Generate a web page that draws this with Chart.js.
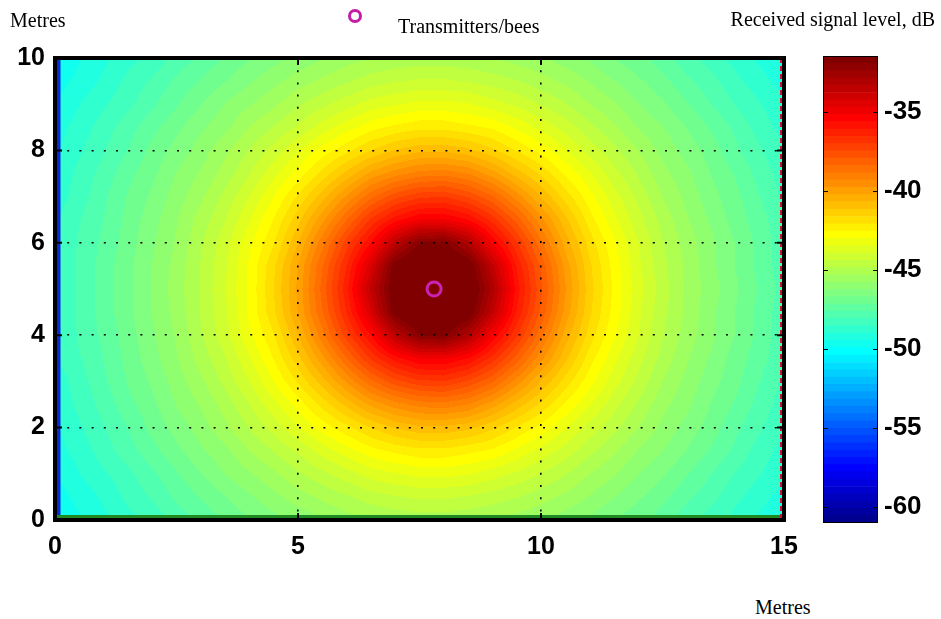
<!DOCTYPE html>
<html>
<head>
<meta charset="utf-8">
<title>Received signal level</title>
<script src="https://cdn.jsdelivr.net/npm/chart.js@4.4.1/dist/chart.umd.min.js"></script>
<style>
  html, body { margin: 0; padding: 0; background: #fff; }
  #page { position: relative; width: 941px; height: 619px; overflow: hidden; background: #fff; }
  .lbl { position: absolute; font-family: 'Liberation Serif', 'Times New Roman', serif; font-size: 20px; line-height: 20px; color: #000; white-space: nowrap; }
  #mainBox { position: absolute; left: 0; top: 0; width: 800px; height: 560px; }
  #barBox { position: absolute; left: 800px; top: 0; width: 141px; height: 560px; }
  .mark { position: absolute; left: 348px; top: 9px; width: 8px; height: 8px; border: 3px solid #c41ca6; border-radius: 50%; }
</style>
</head>
<body>
<div id="page">
  <div id="mainBox"><canvas id="main"></canvas></div>
  <div id="barBox"><canvas id="bar"></canvas></div>
  <div class="lbl" style="left:10px; top:10px;">Metres</div>
  <span class="mark"></span>
  <div class="lbl" style="left:398px; top:16px;">Transmitters/bees</div>
  <div class="lbl" style="right:6px; top:9px;">Received signal level, dB</div>
  <div class="lbl" style="left:755px; top:597px;">Metres</div>
</div>
<script>
// Grid nodes of the survey area (metres)
const xNodes = [0, 0.5, 1, 1.5, 2, 2.5, 3, 3.5, 4, 4.5, 5, 5.5, 6, 6.5, 7, 7.5, 8, 8.5, 9, 9.5, 10, 10.5, 11, 11.5, 12, 12.5, 13, 13.5, 14, 14.5, 15];
const yNodes = [0, 0.5, 1, 1.5, 2, 2.5, 3, 3.5, 4, 4.5, 5, 5.5, 6, 6.5, 7, 7.5, 8, 8.5, 9, 9.5, 10];

// Received signal level (dB) at each node, one row per yNodes entry (bottom to top)
const signalLevels = [
  [-49.9,-49.5,-49.1,-48.7,-48.4,-47.9,-47.5,-47.1,-46.7,-46.4,-46.1,-45.8,-45.5,-45.3,-45.2,-45.1,-45.1,-45.2,-45.3,-45.5,-45.7,-46.0,-46.3,-46.7,-47.0,-47.4,-47.9,-48.3,-48.7,-49.1,-49.5],
  [-49.7,-49.3,-48.9,-48.4,-48.0,-47.5,-47.1,-46.7,-46.3,-45.9,-45.5,-45.2,-44.9,-44.6,-44.4,-44.3,-44.3,-44.4,-44.6,-44.8,-45.1,-45.4,-45.8,-46.2,-46.6,-47.0,-47.5,-47.9,-48.4,-48.8,-49.2],
  [-49.5,-49.0,-48.6,-48.2,-47.7,-47.2,-46.7,-46.2,-45.8,-45.4,-44.9,-44.5,-44.1,-43.7,-43.5,-43.3,-43.3,-43.4,-43.7,-44.0,-44.4,-44.8,-45.3,-45.7,-46.2,-46.6,-47.1,-47.6,-48.1,-48.5,-48.9],
  [-49.2,-48.8,-48.3,-47.8,-47.3,-46.8,-46.3,-45.9,-45.3,-44.8,-44.3,-43.7,-43.2,-42.7,-42.4,-42.2,-42.2,-42.4,-42.6,-43.1,-43.6,-44.1,-44.7,-45.2,-45.8,-46.2,-46.7,-47.2,-47.7,-48.3,-48.7],
  [-49.1,-48.6,-48.1,-47.6,-47.0,-46.5,-46.0,-45.4,-44.8,-44.2,-43.5,-42.8,-42.2,-41.6,-41.1,-40.8,-40.8,-41.0,-41.5,-42.1,-42.7,-43.4,-44.1,-44.7,-45.3,-45.9,-46.4,-46.9,-47.5,-48.0,-48.5],
  [-48.9,-48.4,-47.9,-47.3,-46.8,-46.2,-45.7,-45.1,-44.4,-43.6,-42.8,-41.9,-41.0,-40.1,-39.5,-39.1,-39.0,-39.3,-40.0,-40.9,-41.7,-42.6,-43.4,-44.2,-44.9,-45.6,-46.1,-46.7,-47.2,-47.8,-48.3],
  [-48.8,-48.3,-47.7,-47.1,-46.6,-46.0,-45.4,-44.7,-43.9,-43.0,-42.0,-40.9,-39.7,-38.5,-37.6,-37.1,-37.0,-37.5,-38.3,-39.5,-40.7,-41.8,-42.8,-43.7,-44.5,-45.3,-45.9,-46.5,-47.0,-47.6,-48.2],
  [-48.6,-48.1,-47.6,-47.0,-46.4,-45.8,-45.1,-44.4,-43.5,-42.5,-41.3,-39.9,-38.4,-36.9,-35.8,-35.1,-35.1,-35.6,-36.7,-38.1,-39.6,-41.0,-42.3,-43.3,-44.2,-45.0,-45.7,-46.3,-46.9,-47.4,-48.0],
  [-48.6,-48.0,-47.5,-46.9,-46.3,-45.7,-44.9,-44.1,-43.1,-42.1,-40.7,-39.0,-37.2,-35.6,-33.5,-31.9,-31.7,-33.1,-35.2,-36.9,-38.7,-40.4,-41.8,-42.9,-43.9,-44.8,-45.5,-46.1,-46.7,-47.3,-47.9],
  [-48.5,-48.0,-47.4,-46.8,-46.2,-45.6,-44.8,-44.0,-42.9,-41.7,-40.2,-38.4,-36.5,-34.3,-31.5,-30.7,-30.6,-31.3,-33.6,-36.1,-38.0,-39.9,-41.5,-42.7,-43.8,-44.7,-45.4,-46.1,-46.7,-47.3,-47.9],
  [-48.5,-48.0,-47.4,-46.8,-46.2,-45.5,-44.8,-43.9,-42.9,-41.6,-40.1,-38.2,-36.2,-33.6,-31.2,-30.3,-30.2,-30.9,-33.0,-35.8,-37.8,-39.7,-41.4,-42.6,-43.7,-44.6,-45.4,-46.0,-46.6,-47.2,-47.8],
  [-48.5,-48.0,-47.4,-46.8,-46.2,-45.6,-44.8,-44.0,-42.9,-41.7,-40.2,-38.4,-36.5,-34.3,-31.5,-30.7,-30.6,-31.3,-33.6,-36.1,-38.0,-39.9,-41.5,-42.7,-43.8,-44.7,-45.4,-46.1,-46.7,-47.3,-47.9],
  [-48.6,-48.0,-47.5,-46.9,-46.3,-45.7,-44.9,-44.1,-43.1,-42.1,-40.7,-39.0,-37.2,-35.6,-33.5,-31.9,-31.7,-33.1,-35.2,-36.9,-38.7,-40.4,-41.8,-42.9,-43.9,-44.8,-45.5,-46.1,-46.7,-47.3,-47.9],
  [-48.6,-48.1,-47.6,-47.0,-46.4,-45.8,-45.1,-44.4,-43.5,-42.5,-41.3,-39.9,-38.4,-36.9,-35.8,-35.1,-35.1,-35.6,-36.7,-38.1,-39.6,-41.0,-42.3,-43.3,-44.2,-45.0,-45.7,-46.3,-46.9,-47.4,-48.0],
  [-48.8,-48.3,-47.7,-47.1,-46.6,-46.0,-45.4,-44.7,-43.9,-43.0,-42.0,-40.9,-39.7,-38.5,-37.6,-37.1,-37.0,-37.5,-38.3,-39.5,-40.7,-41.8,-42.8,-43.7,-44.5,-45.3,-45.9,-46.5,-47.0,-47.6,-48.2],
  [-48.9,-48.4,-47.9,-47.3,-46.8,-46.2,-45.7,-45.1,-44.4,-43.6,-42.8,-41.9,-41.0,-40.1,-39.5,-39.1,-39.0,-39.3,-40.0,-40.9,-41.7,-42.6,-43.4,-44.2,-44.9,-45.6,-46.1,-46.7,-47.2,-47.8,-48.3],
  [-49.1,-48.6,-48.1,-47.6,-47.0,-46.5,-46.0,-45.4,-44.8,-44.2,-43.5,-42.8,-42.2,-41.6,-41.1,-40.8,-40.8,-41.0,-41.5,-42.1,-42.7,-43.4,-44.1,-44.7,-45.3,-45.9,-46.4,-46.9,-47.5,-48.0,-48.5],
  [-49.2,-48.8,-48.3,-47.8,-47.3,-46.8,-46.3,-45.9,-45.3,-44.8,-44.3,-43.7,-43.2,-42.7,-42.4,-42.2,-42.2,-42.4,-42.6,-43.1,-43.6,-44.1,-44.7,-45.2,-45.8,-46.2,-46.7,-47.2,-47.7,-48.3,-48.7],
  [-49.5,-49.0,-48.6,-48.2,-47.7,-47.2,-46.7,-46.2,-45.8,-45.4,-44.9,-44.5,-44.1,-43.7,-43.5,-43.3,-43.3,-43.4,-43.7,-44.0,-44.4,-44.8,-45.3,-45.7,-46.2,-46.6,-47.1,-47.6,-48.1,-48.5,-48.9],
  [-49.7,-49.3,-48.9,-48.4,-48.0,-47.5,-47.1,-46.7,-46.3,-45.9,-45.5,-45.2,-44.9,-44.6,-44.4,-44.3,-44.3,-44.4,-44.6,-44.8,-45.1,-45.4,-45.8,-46.2,-46.6,-47.0,-47.5,-47.9,-48.4,-48.8,-49.2],
  [-49.9,-49.5,-49.1,-48.7,-48.4,-47.9,-47.5,-47.1,-46.7,-46.4,-46.1,-45.8,-45.5,-45.3,-45.2,-45.1,-45.1,-45.2,-45.3,-45.5,-45.7,-46.0,-46.3,-46.7,-47.0,-47.4,-47.9,-48.3,-48.7,-49.1,-49.5]
];

// Transmitter (bee) positions, metres
const transmitters = [{ x: 7.8, y: 5.0 }];

// Axis ticks and colour limits
const xTicks = [0, 5, 10, 15];
const yTicks = [0, 2, 4, 6, 8, 10];
const colorbarTicks = [-60, -55, -50, -45, -40, -35];
const colorLimits = [-61.0, -31.44];

// MATLAB-style jet colormap with 64 entries
function jetColormap(m) {
  const n = Math.ceil(m / 4);
  const u = [];
  for (let k = 1; k <= n; k++) u.push(k / n);
  for (let k = 1; k < n; k++) u.push(1);
  for (let k = n; k >= 1; k--) u.push(k / n);
  const g0 = Math.ceil(n / 2) - (m % 4 === 1 ? 1 : 0);
  const map = Array.from({ length: m }, () => [0, 0, 0]);
  for (let k = 0; k < u.length; k++) {
    const gi = g0 + k, ri = gi + n, bi = gi - n;
    if (gi >= 0 && gi < m) map[gi][1] = u[k];
    if (ri >= 0 && ri < m) map[ri][0] = u[k];
    if (bi >= 0 && bi < m) map[bi][2] = u[k];
  }
  return map.map(c => c.map(v => Math.round(v * 255)));
}
const JET = jetColormap(64);

function colorIndex(v) {
  const [cmin, cmax] = colorLimits;
  let i = Math.floor((v - cmin) / (cmax - cmin) * JET.length);
  return Math.max(0, Math.min(JET.length - 1, i));
}

function locate(nodes, v) {
  let i = 0;
  while (i < nodes.length - 2 && v > nodes[i + 1]) i++;
  let t = (v - nodes[i]) / (nodes[i + 1] - nodes[i]);
  return [i, Math.max(0, Math.min(1, t))];
}

// Interpolated shading between grid nodes
function levelAt(x, y) {
  const [i, tx] = locate(xNodes, x);
  const [j, ty] = locate(yNodes, y);
  const a = signalLevels[j][i], b = signalLevels[j][i + 1];
  const c = signalLevels[j + 1][i], d = signalLevels[j + 1][i + 1];
  return (a * (1 - tx) + b * tx) * (1 - ty) + (c * (1 - tx) + d * tx) * ty;
}

const heatmapPlugin = {
  id: 'heatmap',
  beforeDraw(chart) {
    const ctx = chart.ctx, ca = chart.chartArea;
    const xs = chart.scales.x, ys = chart.scales.y;
    const x0 = Math.floor(ca.left), y0 = Math.floor(ca.top);
    const w = Math.ceil(ca.right) - x0, h = Math.ceil(ca.bottom) - y0;
    const off = document.createElement('canvas');
    off.width = w; off.height = h;
    const octx = off.getContext('2d');
    const img = octx.createImageData(w, h);
    for (let py = 0; py < h; py++) {
      const yv = ys.getValueForPixel(y0 + py + 0.5);
      for (let px = 0; px < w; px++) {
        const xv = xs.getValueForPixel(x0 + px + 0.5);
        const c = JET[colorIndex(levelAt(xv, yv))];
        const o = (py * w + px) * 4;
        img.data[o] = c[0]; img.data[o + 1] = c[1]; img.data[o + 2] = c[2]; img.data[o + 3] = 255;
      }
    }
    octx.putImageData(img, 0, 0);
    ctx.save();
    ctx.drawImage(off, x0, y0);
    // thin coloured edge bands along the plot border
    ctx.fillStyle = '#0a28d8';
    ctx.fillRect(ca.left + 1, ca.top, 4.5, ca.height);
    ctx.fillStyle = '#1f8a22';
    ctx.fillRect(ca.left, ca.bottom - 5, ca.width, 4);
    ctx.strokeStyle = '#d0102c';
    ctx.lineWidth = 2;
    ctx.setLineDash([5, 3]);
    ctx.beginPath();
    ctx.moveTo(ca.right - 3, ca.top);
    ctx.lineTo(ca.right - 3, ca.bottom);
    ctx.stroke();
    ctx.restore();
  },
  afterDraw(chart) {
    const ctx = chart.ctx, ca = chart.chartArea;
    const xs = chart.scales.x, ys = chart.scales.y;
    ctx.save();
    ctx.strokeStyle = '#000';
    ctx.lineWidth = 2;
    ctx.beginPath();
    xTicks.forEach(v => {
      const p = xs.getPixelForValue(v);
      ctx.moveTo(p, ca.bottom); ctx.lineTo(p, ca.bottom - 7);
      ctx.moveTo(p, ca.top); ctx.lineTo(p, ca.top + 7);
    });
    yTicks.forEach(v => {
      const p = ys.getPixelForValue(v);
      ctx.moveTo(ca.left, p); ctx.lineTo(ca.left + 7, p);
      ctx.moveTo(ca.right, p); ctx.lineTo(ca.right - 7, p);
    });
    ctx.stroke();
    ctx.lineWidth = 4;
    ctx.strokeRect(ca.left, ca.top, ca.width, ca.height);
    ctx.restore();
  }
};

const tickFont = { family: "'Liberation Sans', Arial, sans-serif", size: 25, weight: 'bold' };
const barFont = { family: "'Liberation Sans', Arial, sans-serif", size: 26, weight: 'bold' };

new Chart(document.getElementById('main'), {
  type: 'scatter',
  data: {
    datasets: [{
      label: 'Transmitters/bees',
      data: transmitters,
      pointStyle: 'circle',
      pointRadius: 7,
      pointBorderWidth: 3,
      pointBorderColor: '#cc22b4',
      pointBackgroundColor: 'rgba(0,0,0,0)'
    }]
  },
  options: {
    responsive: true,
    maintainAspectRatio: false,
    animation: false,
    events: [],
    layout: { padding: { left: 0, right: 16, top: 58, bottom: 0 } },
    plugins: { legend: { display: false }, tooltip: { enabled: false } },
    scales: {
      x: {
        type: 'linear', min: 0, max: 15,
        afterBuildTicks: s => { s.ticks = xTicks.map(v => ({ value: v })); },
        afterFit: s => { s.height = 40; s.paddingLeft = 0; s.paddingRight = 0; },
        grid: { color: '#000', lineWidth: 1.6, drawTicks: false },
        border: { display: false, dash: [2, 10.2] },
        ticks: { font: tickFont, color: '#000', padding: 12, maxRotation: 0, autoSkip: false }
      },
      y: {
        type: 'linear', min: 0, max: 10,
        afterBuildTicks: s => { s.ticks = yTicks.map(v => ({ value: v })); },
        afterFit: s => { s.width = 55; s.paddingTop = 0; s.paddingBottom = 0; },
        grid: { color: '#000', lineWidth: 1.6, drawTicks: false },
        border: { display: false, dash: [2, 10.2] },
        ticks: { font: tickFont, color: '#000', padding: 10, autoSkip: false }
      }
    }
  },
  plugins: [heatmapPlugin]
});

// Colour bar: one floating bar per colormap entry
const span = colorLimits[1] - colorLimits[0];
const barSets = JET.map((c, i) => ({
  data: [[colorLimits[0] + span * i / JET.length, colorLimits[0] + span * (i + 1) / JET.length]],
  backgroundColor: `rgb(${c[0]},${c[1]},${c[2]})`,
  borderWidth: 0,
  barPercentage: 1,
  categoryPercentage: 1,
  grouped: false
}));

const colorbarFrame = {
  id: 'colorbarFrame',
  afterDraw(chart) {
    const ctx = chart.ctx, ca = chart.chartArea, ys = chart.scales.y;
    ctx.save();
    ctx.strokeStyle = '#000';
    ctx.lineWidth = 1;
    ctx.beginPath();
    colorbarTicks.forEach(v => {
      const p = Math.round(ys.getPixelForValue(v)) + 0.5;
      ctx.moveTo(ca.left, p); ctx.lineTo(ca.left + 5, p);
      ctx.moveTo(ca.right, p); ctx.lineTo(ca.right - 5, p);
    });
    ctx.stroke();
    ctx.strokeRect(Math.round(ca.left) + 0.5, Math.round(ca.top) + 0.5, Math.round(ca.width) - 1, Math.round(ca.height) - 1);
    ctx.restore();
  }
};

new Chart(document.getElementById('bar'), {
  type: 'bar',
  data: { labels: [''], datasets: barSets },
  options: {
    responsive: true,
    maintainAspectRatio: false,
    animation: false,
    events: [],
    layout: { padding: { left: 23, right: 0, top: 56, bottom: 37 } },
    plugins: { legend: { display: false }, tooltip: { enabled: false } },
    scales: {
      x: { display: false },
      y: {
        position: 'right',
        min: colorLimits[0], max: colorLimits[1],
        afterBuildTicks: s => { s.ticks = colorbarTicks.map(v => ({ value: v })); },
        afterFit: s => { s.width = 63; s.paddingTop = 0; s.paddingBottom = 0; },
        grid: { display: false, drawTicks: false },
        border: { display: false },
        ticks: { font: barFont, color: '#000', padding: 6, autoSkip: false }
      }
    }
  },
  plugins: [colorbarFrame]
});
</script>
</body>
</html>
